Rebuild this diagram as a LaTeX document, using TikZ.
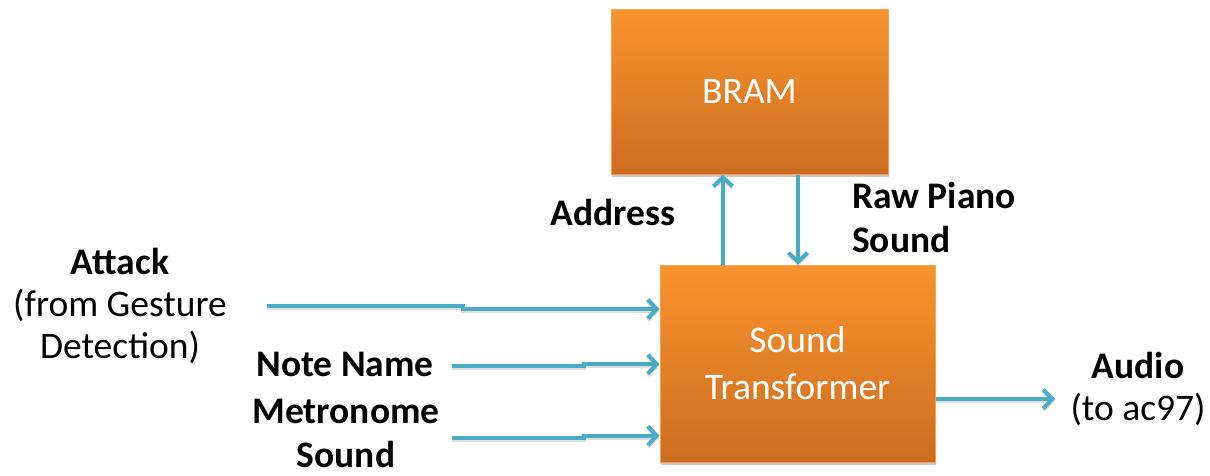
\documentclass[tikz,border=0pt]{standalone}
\usepackage{fontspec}
\setmainfont{Carlito}
\usetikzlibrary{arrows.meta,shadows}

\definecolor{sigblue}{RGB}{75,172,198}
\definecolor{boxtop}{RGB}{248,148,46}
\definecolor{boxbot}{RGB}{205,108,31}
\definecolor{boxline}{RGB}{250,160,80}

\tikzset{
  block/.style={rectangle, draw=boxline, line width=1pt,
    top color=boxtop, bottom color=boxbot,
    text=white, align=center, inner sep=0pt,
    font=\fontsize{37.5}{47}\selectfont,
    drop shadow={shadow xshift=1pt, shadow yshift=-3pt, opacity=0.3, fill=black!70}},
  sig/.style={draw=sigblue, line width=4pt,
    -{Straight Barb[length=9pt,width=19pt,line width=4pt]},
    preaction={draw=black, opacity=0.12, line width=4pt,
      transform canvas={yshift=-2pt}}},
  lbl/.style={inner sep=0pt, font=\fontsize{37.5}{42}\selectfont},
  blbl/.style={lbl, font=\fontsize{37.5}{44}\selectfont\bfseries},
}

\begin{document}
\begin{tikzpicture}[x=1pt, y=-1pt]
\useasboundingbox (0,0) rectangle (1210,475);

% blocks
\node[block, minimum width=277pt, minimum height=165pt] (bram) at (749.5,91.5) {BRAM};
\node[block, minimum width=275pt, minimum height=197pt] (st) at (797.5,363.5) {Sound\\Transformer};

% labels (base anchor sits on the last line's baseline)
\node[lbl, align=center, anchor=base] (attack) at (120,358)
  {\textbf{Attack}\\(from Gesture\\Detection)};
\node[blbl, anchor=base] (note) at (345,376) {Note Name};
\node[blbl, align=center, anchor=base] (metro) at (346,467) {Metronome\\Sound};
\node[blbl, anchor=base] (addr) at (613,225) {Address};
\node[blbl, align=left, anchor=base west] (raw) at (852,252) {Raw Piano\\Sound};
\node[lbl, align=center, anchor=base] (audio) at (1138,420) {\textbf{Audio}\\(to ac97)};

% free ends of the input and output lines
\coordinate (attackin) at (267,306);
\coordinate (notein) at (452,365.5);
\coordinate (metroin) at (452,437.5);
\coordinate (audioout) at (1055,399);

% inputs
\draw[sig] (attackin) -- ++(196,0) |- (st.west |- 0,309);
\draw[sig] (notein) -- ++(132,0) |- (st.west |- 0,364.2);
\draw[sig] (metroin) -- ++(132,0) |- (st.west |- 0,435.7);

% memory interface
\draw[sig] (st.north -| 723,0) -- (bram.south -| 723,0);
\draw[sig] (bram.south -| 798,0) -- (st.north -| 798,0);

% output
\draw[sig] (st.east |- audioout) -- (audioout);
\end{tikzpicture}
\end{document}
